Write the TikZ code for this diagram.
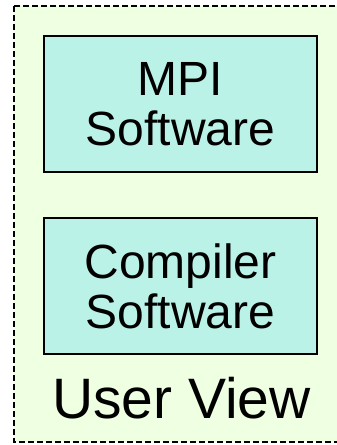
\documentclass[tikz,border=0pt]{standalone}
\usepackage{fontspec}
\setmainfont{Liberation Sans}
\definecolor{outerfill}{RGB}{238,255,226}
\definecolor{boxfill}{RGB}{187,242,232}
\begin{document}
\begin{tikzpicture}[x=1pt,y=-1pt,
  softbox/.style={draw=black, line width=2pt, fill=boxfill, minimum width=273pt, minimum height=136pt, inner sep=0pt, align=center, font=\fontsize{48}{50}\selectfont},
  viewbox/.style={draw=black, dash pattern=on 6pt off 3pt, line width=1.7pt, fill=outerfill}]
\useasboundingbox (0,0) rectangle (337,445);
\draw[viewbox] (14,6) rectangle (346,442);
\node[softbox] (mpi) at (180.5,104) {MPI\\Software};
\node[softbox] (comp) at (180.5,286) {Compiler\\Software};
\node[anchor=base, inner sep=0pt, font=\fontsize{57}{60}\selectfont] (view) at (181.5,418) {User View};
\end{tikzpicture}
\end{document}
